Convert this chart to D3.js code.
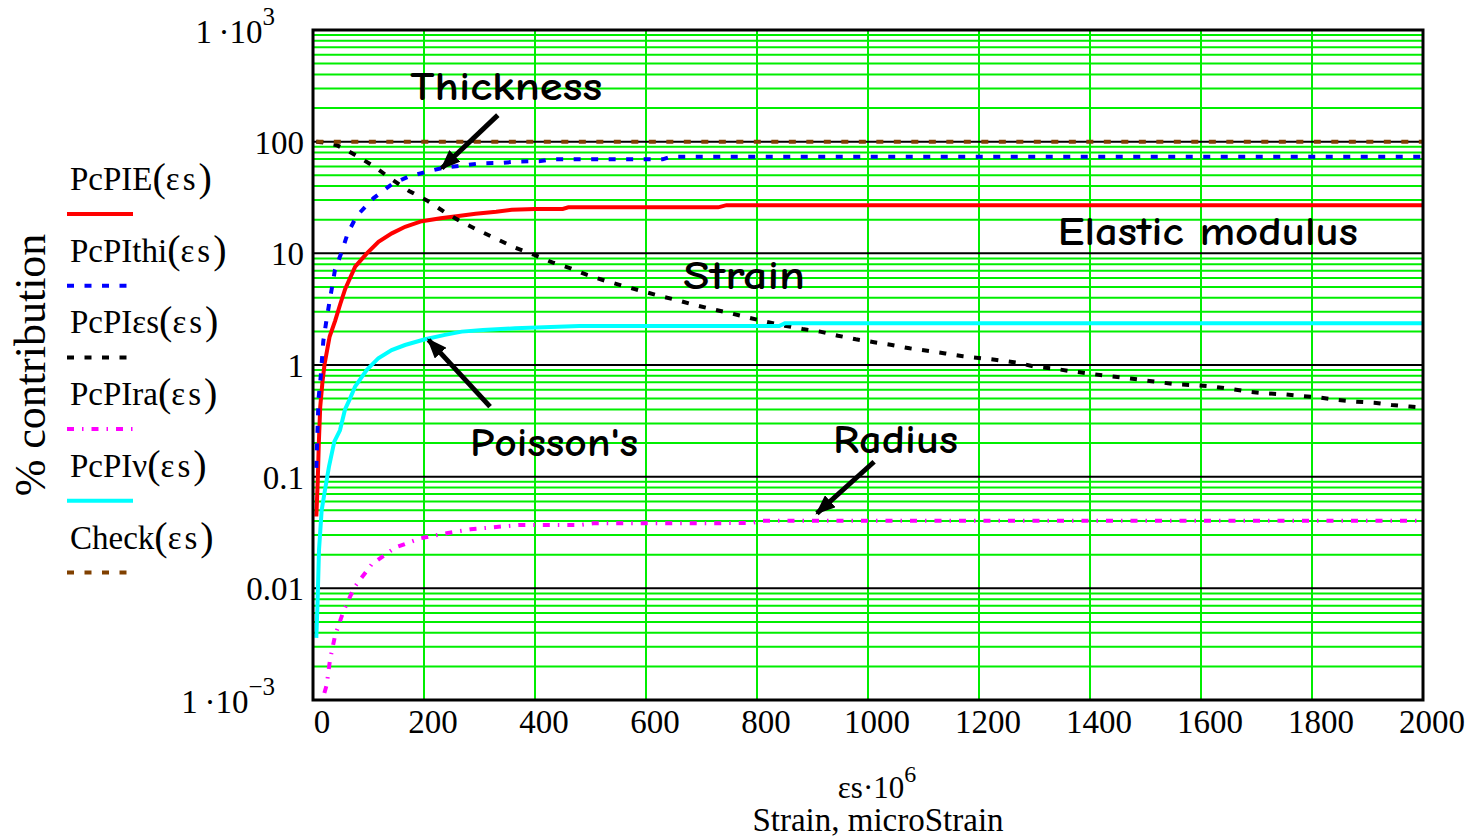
<!DOCTYPE html>
<html><head><meta charset="utf-8">
<script src="https://cdn.jsdelivr.net/npm/d3@7/dist/d3.min.js"></script>
<style>body{margin:0;background:#fff;} svg{display:block}</style>
</head><body>
<svg id="chart" width="1471" height="839"></svg>
<script>
// ---------- data ----------
const xTicks = [0,200,400,600,800,1000,1200,1400,1600,1800,2000];
const yDecades = [0.001,0.01,0.1,1,10,100,1000];
const yTickLabels = ["1\u2009·10|−3","0.01","0.1","1","10","100","1\u2009·10|3"];

// [strain (microstrain), % contribution]
const pcElastic = [[6,0.044],[8.5,0.09],[10.5,0.2],[13,0.42],[17,0.7],[21,1.03],[30,1.8],[40,2.5],[49,3.5],[58,4.8],[76,7.6],[97,10],[118,12.7],[142,15.1],[166,17.3],[196,19.4],[230,20.6],[262,21.6],[293,22.6],[330,23.6],[358,24.6],[400,24.9],[450,25.0],[460,25.8],[730,25.8],[745,27.0],[2000,27.0]];
const pcThickness = [[6,0.12],[8,0.25],[10,0.5],[14,0.8],[18.6,1.64],[23.4,2.36],[28.8,3.45],[39.6,7.1],[51.7,10.3],[62.5,15.1],[78.7,21.6],[108.7,31.1],[141.8,41.5],[171.7,48.6],[204.8,53.8],[237.8,58.9],[270,61],[301,64],[340,64.5],[365,66.2],[410,67],[430,69.5],[630,69.5],[645,73.4],[2000,73.4]];
const pcStrain = [[6,99.8],[15,99],[25,97],[35,95],[43,93],[60,84],[76,76],[109,60.5],[142,46],[173,36.2],[207,29.4],[236,23.6],[267,19.2],[301,15.8],[333,13.3],[365,11.2],[399,9.67],[431,8.3],[464,7.34],[494,6.4],[526,5.69],[559,5.1],[592,4.6],[623,4.18],[655,3.82],[687,3.45],[721,3.15],[753,2.9],[785,2.65],[816,2.44],[850,2.25],[882,2.1],[914,1.99],[946,1.83],[978,1.70],[1011,1.60],[1043,1.51],[1075,1.41],[1107,1.34],[1139,1.27],[1171,1.20],[1204,1.15],[1232,1.11],[1268,1.05],[1301,0.966],[1332,0.933],[1364,0.883],[1397,0.84],[1429,0.80],[1461,0.77],[1493,0.735],[1526,0.70],[1557,0.67],[1590,0.66],[1622,0.64],[1653,0.61],[1686,0.577],[1717,0.557],[1750,0.546],[1782,0.527],[1815,0.51],[1847,0.486],[1879,0.47],[1912,0.46],[1944,0.438],[1976,0.424],[2000,0.415]];
const pcRadius = [[15,0.0007],[18.6,0.00107],[24.6,0.00136],[30.6,0.00228],[39.6,0.00374],[54.6,0.0062],[74.4,0.0102],[105.7,0.0164],[147.7,0.0231],[192.8,0.028],[237.8,0.031],[283.6,0.0338],[325,0.0352],[370,0.0369],[480,0.0369],[505,0.0382],[790,0.0384],[810,0.0403],[2000,0.0403]];
const pcPoisson = [[6,0.0036],[8.4,0.0079],[10.8,0.022],[15.6,0.05],[21.6,0.076],[28.8,0.123],[38.4,0.206],[48.6,0.26],[57.7,0.4],[66.7,0.5],[75.7,0.64],[96.7,0.9],[117.7,1.15],[141.7,1.36],[165.8,1.51],[201.8,1.70],[237.8,1.86],[268,1.99],[306,2.06],[364,2.13],[480,2.23],[840,2.23],[850,2.36],[2000,2.36]];
const check = [[6,100],[2000,100]];

// legend: function name and argument
const seriesNames = ["PcPIE","PcPIthi","PcPIεs","PcPIra","PcPIν","Check"];
const seriesArg = "εs";

// annotations: label, text anchor point [x, value], arrow tail & head [x, value]
const annoLabels = ["Thickness","Elastic modulus","Strain","Poisson's","Radius"];
const annoPos = [[175,236],[1342,11.9],[667,4.8],[283,0.153],[937,0.163]];
const annoWidths = [192,300,122,168,125];
const arrows = [[[333,173],[232,57.8]],[[319,0.424],[208,1.68]],[[1011,0.136],[908,0.047]]];

// ---------- styles ----------
const series = [
  {data:pcElastic, color:"#ff0000", dash:null},
  {data:pcThickness, color:"#0000ff", dash:"7,10.5"},
  {data:pcStrain, color:"#000000", dash:"7,10.5"},
  {data:pcRadius, color:"#ff00ff", dash:"7,8,1.5,8"},
  {data:pcPoisson, color:"#00ffff", dash:null},
  {data:check, color:"#804000", dash:"7,10.5"}
];

const svg = d3.select("#chart");
const L=313, R=1423, T=30, B=700;
const x = d3.scaleLinear().domain([0,2000]).range([L,R]);
const y = d3.scaleLog().domain([0.001,1000]).range([B,T]);
const green = "#00ee00";

svg.append("rect").attr("width",1471).attr("height",839).attr("fill","#fff");

// minor horizontal grid
const minor = [];
yDecades.slice(0,-1).forEach(d=>{ for(let k=2;k<=9;k++) minor.push(d*k); });
svg.append("g").selectAll("line").data(minor).join("line")
  .attr("x1",L).attr("x2",R).attr("y1",d=>y(d)).attr("y2",d=>y(d))
  .attr("stroke",green).attr("stroke-width",2);
// vertical grid
svg.append("g").selectAll("line").data(xTicks).join("line")
  .attr("x1",d=>x(d)).attr("x2",d=>x(d)).attr("y1",T).attr("y2",B)
  .attr("stroke",green).attr("stroke-width",2);
// decade lines
svg.append("g").selectAll("line").data(yDecades.slice(1,-1)).join("line")
  .attr("x1",L).attr("x2",R).attr("y1",d=>y(d)).attr("y2",d=>y(d))
  .attr("stroke","#000").attr("stroke-width",2);

// clip
svg.append("clipPath").attr("id","clip").append("rect")
  .attr("x",L).attr("y",T).attr("width",R-L).attr("height",B-T);

const line = d3.line().x(d=>x(d[0])).y(d=>y(d[1]));
const gC = svg.append("g").attr("clip-path","url(#clip)");
series.forEach(s=>{
  gC.append("path").attr("d",line(s.data)).attr("fill","none")
    .attr("stroke",s.color).attr("stroke-width",4)
    .attr("stroke-dasharray",s.dash);
});

// border
svg.append("rect").attr("x",L).attr("y",T).attr("width",R-L).attr("height",B-T)
  .attr("fill","none").attr("stroke","#000").attr("stroke-width",3);

// axis tick labels
const serif = "'Liberation Serif','Times New Roman',serif";
const gx = svg.append("g").attr("font-family",serif).attr("font-size",33).attr("fill","#000");
gx.selectAll("text").data(xTicks).join("text")
  .attr("x",d=>x(d)+9).attr("y",B+33).attr("text-anchor","middle").text(d=>d);

const gy = svg.append("g").attr("font-family",serif).attr("font-size",33).attr("fill","#000");
yDecades.forEach((d,i)=>{
  const lab = yTickLabels[i];
  if(lab.includes("|")){
    const [base,exp] = lab.split("|");
    const t = gy.append("text").attr("x",L-38).attr("y",y(d)+13).attr("text-anchor","end");
    t.append("tspan").text(base);
    t.append("tspan").attr("font-size",25).attr("dy",-18).text(exp);
  } else {
    gy.append("text").attr("x",L-9).attr("y",y(d)+12).attr("text-anchor","end").text(lab);
  }
});

// axis titles
svg.append("text").attr("font-family",serif).attr("font-size",44)
  .attr("transform","translate(45,"+((T+B)/2)+") rotate(-90)")
  .attr("text-anchor","middle").text("% contribution");
const xt = svg.append("text").attr("font-family",serif).attr("font-size",31)
  .attr("x",(L+R)/2+9).attr("y",798).attr("text-anchor","middle");
xt.append("tspan").text("εs·10");
xt.append("tspan").attr("font-size",24).attr("dy",-16).text("6");
svg.append("text").attr("font-family",serif).attr("font-size",33)
  .attr("x",(L+R)/2+10).attr("y",831).attr("text-anchor","middle").text("Strain, microStrain");

// legend
const lg = svg.append("g");
seriesNames.forEach((n,i)=>{
  const by = 190 + i*71.7;
  const t = lg.append("text").attr("font-family",serif).attr("font-size",33).attr("x",70).attr("y",by);
  t.append("tspan").text(n);
  t.append("tspan").attr("font-size",40).attr("dy",1).text("(");
  t.append("tspan").attr("font-size",33).attr("dy",-1).attr("letter-spacing",3).text(seriesArg);
  t.append("tspan").attr("font-size",40).attr("dy",1).text(")");
  lg.append("line").attr("x1",67).attr("x2",133).attr("y1",by+24).attr("y2",by+24)
    .attr("stroke",series[i].color).attr("stroke-width",4).attr("stroke-dasharray",series[i].dash);
});

// annotations
const defs = svg.append("defs");
defs.append("marker").attr("id","ah").attr("markerUnits","userSpaceOnUse")
  .attr("viewBox","0 0 20 16").attr("refX",18).attr("refY",8)
  .attr("markerWidth",20).attr("markerHeight",16).attr("orient","auto")
  .append("path").attr("d","M0,0 L20,8 L0,16 Z").attr("fill","#000");
arrows.forEach(a=>{
  svg.append("line").attr("x1",x(a[0][0])).attr("y1",y(a[0][1]))
    .attr("x2",x(a[1][0])).attr("y2",y(a[1][1]))
    .attr("stroke","#000").attr("stroke-width",5).attr("marker-end","url(#ah)");
});
annoLabels.forEach((t,i)=>{
  svg.append("text").attr("font-family","'Comic Sans MS','Comic Neue','Open Sans',sans-serif")
    .attr("font-size",40).attr("font-weight",600).attr("x",x(annoPos[i][0])).attr("y",y(annoPos[i][1]))
    .attr("textLength",annoWidths[i]).attr("lengthAdjust","spacingAndGlyphs")
    .attr("fill","#000").text(t);
});
</script>
</body></html>
